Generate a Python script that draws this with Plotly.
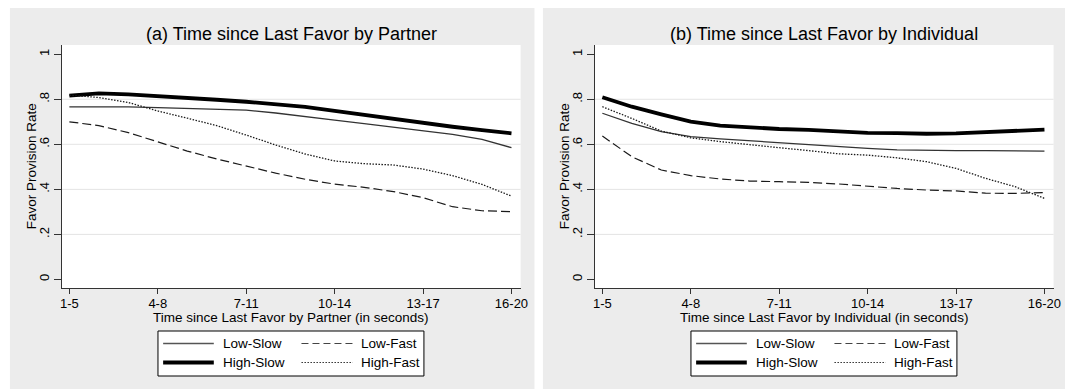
import plotly.graph_objects as go

W, H = 1072, 389

# Five-second windows of time since the last favor
windows = ["1-5", "2-6", "3-7", "4-8", "5-9", "6-10", "7-11", "8-12",
           "9-13", "10-14", "11-15", "12-16", "13-17", "14-18", "15-19", "16-20"]
tick_windows = ["1-5", "4-8", "7-11", "10-14", "13-17", "16-20"]
rate_ticks = [0, 0.2, 0.4, 0.6, 0.8, 1]
rate_tick_text = ["0", ".2", ".4", ".6", ".8", "1"]

groups = ["Low-Slow", "Low-Fast", "High-Slow", "High-Fast"]

# (a) time since last favor by partner
partner_low_slow = [0.766, 0.767, 0.766, 0.763, 0.760, 0.757, 0.752, 0.739,
                    0.722, 0.707, 0.692, 0.677, 0.661, 0.644, 0.622, 0.585]
partner_low_fast = [0.700, 0.683, 0.652, 0.612, 0.570, 0.535, 0.502, 0.472,
                    0.445, 0.423, 0.409, 0.390, 0.363, 0.323, 0.305, 0.301]
partner_high_slow = [0.816, 0.826, 0.822, 0.815, 0.807, 0.798, 0.789, 0.778,
                     0.766, 0.748, 0.730, 0.711, 0.693, 0.678, 0.663, 0.649]
partner_high_fast = [0.818, 0.808, 0.786, 0.748, 0.716, 0.683, 0.641, 0.597,
                     0.557, 0.526, 0.514, 0.508, 0.490, 0.461, 0.422, 0.370]

# (b) time since last favor by individual
individual_low_slow = [0.738, 0.693, 0.656, 0.634, 0.624, 0.615, 0.606, 0.597,
                       0.588, 0.582, 0.575, 0.572, 0.572, 0.572, 0.572, 0.570]
individual_low_fast = [0.637, 0.545, 0.486, 0.461, 0.446, 0.437, 0.434, 0.431,
                       0.424, 0.413, 0.404, 0.397, 0.393, 0.383, 0.382, 0.386]
individual_high_slow = [0.809, 0.767, 0.733, 0.701, 0.683, 0.674, 0.668, 0.664,
                        0.656, 0.651, 0.650, 0.647, 0.649, 0.655, 0.660, 0.665]
individual_high_fast = [0.767, 0.715, 0.659, 0.629, 0.612, 0.597, 0.585, 0.572,
                        0.558, 0.552, 0.540, 0.523, 0.493, 0.449, 0.412, 0.360]

styles = {
    "Low-Slow": dict(color="#333333", width=1.3, dash="solid"),
    "Low-Fast": dict(color="#1a1a1a", width=1.2, dash="9px,4px"),
    "High-Slow": dict(color="#000000", width=3.8, dash="solid"),
    "High-Fast": dict(color="#1a1a1a", width=1.3, dash="1.5px,1.5px"),
}
legend_styles = {
    "Low-Slow": dict(color="#555555", width=1.3, dash="solid"),
    "Low-Fast": dict(color="#444444", width=1.2, dash="7px,4px"),
    "High-Slow": dict(color="#000000", width=4, dash="solid"),
    "High-Fast": dict(color="#333333", width=1.0, dash="1.5px,1.5px"),
}

panels = [
    dict(dx=0.0, xa="x", ya="y",
         title="(a) Time since Last Favor by Partner",
         xtitle="Time since Last Favor by Partner (in seconds)",
         series=[partner_low_slow, partner_low_fast, partner_high_slow, partner_high_fast]),
    dict(dx=537.5, xa="x2", ya="y2",
         title="(b) Time since Last Favor by Individual",
         xtitle="Time since Last Favor by Individual (in seconds)",
         series=[individual_low_slow, individual_low_fast, individual_high_slow, individual_high_fast]),
]

# panel geometry in pixels (left panel; right panel shifted by dx)
GRAY_L, GRAY_R, GRAY_T, GRAY_B = 8, 537, 8, 389
PLOT_L, PLOT_R, PLOT_T, PLOT_B = 60.5, 523, 45, 288
LEG_L, LEG_R, LEG_T, LEG_B = 157.3, 425.5, 331, 376
GRAY = "#ECECEC"
FONT = "Arial, Liberation Sans, sans-serif"


def fx(p):
    return p / W


def fy(p):
    return 1 - p / H


fig = go.Figure()
shapes, annotations = [], []

for k, pn in enumerate(panels):
    dx = pn["dx"]
    for name, vals in zip(groups, pn["series"]):
        st = styles[name]
        fig.add_trace(go.Scatter(
            x=windows, y=vals, mode="lines", name=name, showlegend=False,
            line=dict(color=st["color"], width=st["width"], dash=st["dash"]),
            xaxis=pn["xa"], yaxis=pn["ya"]))

    # panel background and white plot region
    shapes.append(dict(type="rect", xref="paper", yref="paper", layer="below",
                       x0=fx(GRAY_L + dx), x1=fx(min(GRAY_R + dx, W)),
                       y0=fy(GRAY_B), y1=fy(GRAY_T),
                       fillcolor=GRAY, line=dict(width=0)))
    shapes.append(dict(type="rect", xref="paper", yref="paper", layer="below",
                       x0=fx(PLOT_L + dx), x1=fx(PLOT_R + dx),
                       y0=fy(PLOT_B), y1=fy(PLOT_T),
                       fillcolor="white", line=dict(width=0)))
    # horizontal grid lines
    for v in rate_ticks[1:-1]:
        shapes.append(dict(type="line", xref=pn["xa"] + " domain", yref=pn["ya"],
                           x0=0, x1=1, y0=v, y1=v, layer="below",
                           line=dict(color="#E4E4E4", width=1)))

    cx = (PLOT_L + PLOT_R) / 2 + dx
    annotations.append(dict(text=pn["title"], xref="paper", yref="paper",
                            x=fx(cx), y=fy(34), xanchor="center", yanchor="middle",
                            showarrow=False, font=dict(family=FONT, size=18, color="black")))
    annotations.append(dict(text=pn["xtitle"], xref="paper", yref="paper",
                            x=fx(cx), y=fy(317.5), xanchor="center", yanchor="middle",
                            showarrow=False, font=dict(family=FONT, size=13.5, color="black")))
    annotations.append(dict(text="Favor Provision Rate", xref="paper", yref="paper",
                            x=fx(30 + dx), y=fy((PLOT_T + PLOT_B) / 2), textangle=-90,
                            xanchor="center", yanchor="middle", showarrow=False,
                            font=dict(family=FONT, size=13.5, color="black")))

    # legend box: two columns, two rows
    shapes.append(dict(type="rect", xref="paper", yref="paper",
                       x0=fx(LEG_L + dx), x1=fx(LEG_R + dx),
                       y0=fy(LEG_B), y1=fy(LEG_T),
                       fillcolor="white", line=dict(color="black", width=1)))
    cols = [(162.5, 213.6, 221.0), (302.0, 353.6, 360.0)]
    rows = [343.5, 362.5]
    for idx, name in enumerate(groups):
        c0, c1, tx = cols[idx % 2]
        ry = rows[idx // 2]
        st = legend_styles[name]
        shapes.append(dict(type="line", xref="paper", yref="paper",
                           x0=fx(c0 + dx), x1=fx(c1 + dx), y0=fy(ry), y1=fy(ry),
                           line=dict(color=st["color"], width=st["width"], dash=st["dash"])))
        annotations.append(dict(text=name, xref="paper", yref="paper",
                                x=fx(tx + dx), y=fy(ry), xanchor="left", yanchor="middle",
                                showarrow=False, font=dict(family=FONT, size=13.5, color="black")))

axis_common = dict(showline=True, linecolor="#333333", linewidth=1, ticks="outside",
                   tickcolor="#333333", showgrid=False, zeroline=False,
                   tickfont=dict(family=FONT, size=13, color="black"))

layout = dict(
    width=W, height=H, margin=dict(l=0, r=0, t=0, b=0),
    paper_bgcolor="white", plot_bgcolor="rgba(0,0,0,0)",
    showlegend=False, shapes=shapes, annotations=annotations,
)
for k, pn in enumerate(panels):
    dx = pn["dx"]
    suffix = "" if k == 0 else "2"
    layout["xaxis" + suffix] = dict(
        axis_common, type="category", categoryorder="array", categoryarray=windows,
        range=[-0.25, 15.31], tickmode="array", tickvals=tick_windows, ticktext=tick_windows,
        ticklen=5, ticklabelstandoff=-2,
        domain=[fx(PLOT_L + dx), fx(PLOT_R + dx)], anchor="y" + suffix)
    layout["yaxis" + suffix] = dict(
        axis_common, range=[-0.038, 1.041], tickmode="array", tickvals=rate_ticks,
        ticktext=rate_tick_text, tickangle=-90, ticklen=7,
        domain=[fy(PLOT_B), fy(PLOT_T)], anchor="x" + suffix)

fig.update_layout(**layout)
fig.write_html("out.html")
